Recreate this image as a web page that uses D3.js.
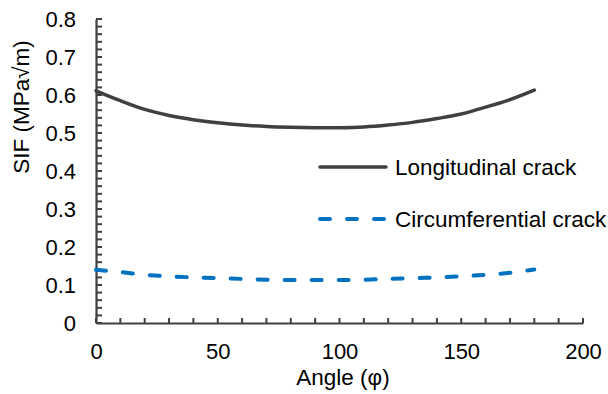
<!DOCTYPE html>
<html>
<head>
<meta charset="utf-8">
<script src="https://cdn.jsdelivr.net/npm/d3@7"></script>
<style>
	body { margin: 0; background: #fff; }
	svg text { font-family: "Liberation Sans", Arial, sans-serif; fill: #000; }
</style>
</head>
<body>
<div id="chart"></div>
<script>
// Angles in degrees
const angles = [0, 10, 20, 30, 40, 50, 60, 70, 80, 90, 100, 110, 120, 130, 140, 150, 160, 170, 180];
const longitudinal = [0.611, 0.585, 0.562, 0.546, 0.535, 0.527, 0.521, 0.517, 0.515, 0.514,
	0.514, 0.516, 0.521, 0.528, 0.538, 0.550, 0.568, 0.588, 0.613];
const circumferential = [0.140, 0.134, 0.127, 0.123, 0.120, 0.118, 0.116, 0.114, 0.113, 0.113,
	0.113, 0.114, 0.116, 0.118, 0.120, 0.123, 0.127, 0.132, 0.141];
const xTicks = [0, 50, 100, 150, 200];
const yTicks = [0, 0.1, 0.2, 0.3, 0.4, 0.5, 0.6, 0.7, 0.8];
const seriesNames = ['Longitudinal crack', 'Circumferential crack'];

let full_width = 608, full_height = 394;
let margin = {top: 19, left: 96, right: 25, bottom: 71};
let width = full_width - margin.left - margin.right;
let height = full_height - margin.top - margin.bottom;
const axisColor = '#404040';

let svg = d3.select('#chart')
	.append('svg')
		.attr('width', full_width)
		.attr('height', full_height);
let g = svg.append('g')
	.attr('transform', 'translate(' + margin.left + ',' + margin.top + ')');

let x = d3.scaleLinear().domain([0, 200]).range([0, width]);
let y = d3.scaleLinear().domain([0, 0.8]).range([height, 0]);

// minor ticks (inside), every 10 on x and 0.02 on y
g.append('g')
	.selectAll('line')
	.data(d3.range(0, 201, 10))
	.enter()
	.append('line')
		.attr('x1', d => x(d)).attr('x2', d => x(d))
		.attr('y1', height).attr('y2', height - 5)
		.attr('stroke', axisColor).attr('stroke-width', 2);
g.append('g')
	.selectAll('line')
	.data(d3.range(0, 41).map(i => i * 0.02))
	.enter()
	.append('line')
		.attr('x1', 0).attr('x2', 6)
		.attr('y1', d => y(d)).attr('y2', d => y(d))
		.attr('stroke', axisColor).attr('stroke-width', 2);

// axes
let xAxis = g.append('g')
	.attr('transform', 'translate(0,' + height + ')')
	.call(d3.axisBottom(x).tickValues(xTicks).tickSize(0).tickPadding(20));
let yAxis = g.append('g')
	.call(d3.axisLeft(y).tickValues(yTicks).tickSize(0).tickPadding(20)
		.tickFormat(d => d === 0 ? '0' : d3.format('.1f')(d)));
[xAxis, yAxis].forEach(a => {
	a.select('.domain').attr('stroke', axisColor).attr('stroke-width', 2.2);
	a.selectAll('text').style('font-size', '22px').attr('fill', '#000');
});
yAxis.selectAll('text').attr('dy', '0.36em');

// lines
let line = d3.line()
	.x((d, i) => x(angles[i]))
	.y(d => y(d))
	.curve(d3.curveCatmullRom);

g.append('path')
	.datum(longitudinal)
	.attr('d', line)
	.attr('fill', 'none')
	.attr('stroke', '#404040')
	.attr('stroke-width', 3.5)
	.attr('stroke-linecap', 'round');

g.append('path')
	.datum(circumferential)
	.attr('d', line)
	.attr('fill', 'none')
	.attr('stroke', '#0070C0')
	.attr('stroke-width', 4)
	.attr('stroke-dasharray', '10,17')
	.attr('stroke-linecap', 'round');

// axis titles
svg.append('text')
	.attr('x', 343)
	.attr('y', 385)
	.attr('text-anchor', 'middle')
	.style('font-size', '22.5px')
	.text('Angle (φ)');

svg.append('text')
	.attr('transform', 'translate(29,107) rotate(-90)')
	.attr('text-anchor', 'middle')
	.style('font-size', '22.5px')
	.text('SIF (MPa√m)');

// legend
const legendItems = [
	{name: seriesNames[0], color: '#404040', dash: null, w: 3.5, ly: 167, ty: 175},
	{name: seriesNames[1], color: '#0070C0', dash: '10,17', w: 4, ly: 219, ty: 227}
];
let legend = svg.append('g');
legendItems.forEach(it => {
	legend.append('line')
		.attr('x1', 320).attr('x2', 386)
		.attr('y1', it.ly).attr('y2', it.ly)
		.attr('stroke', it.color)
		.attr('stroke-width', it.w)
		.attr('stroke-linecap', 'round')
		.attr('stroke-dasharray', it.dash);
	legend.append('text')
		.attr('x', 395)
		.attr('y', it.ty)
		.style('font-size', '22.5px')
		.text(it.name);
});
</script>
</body>
</html>
